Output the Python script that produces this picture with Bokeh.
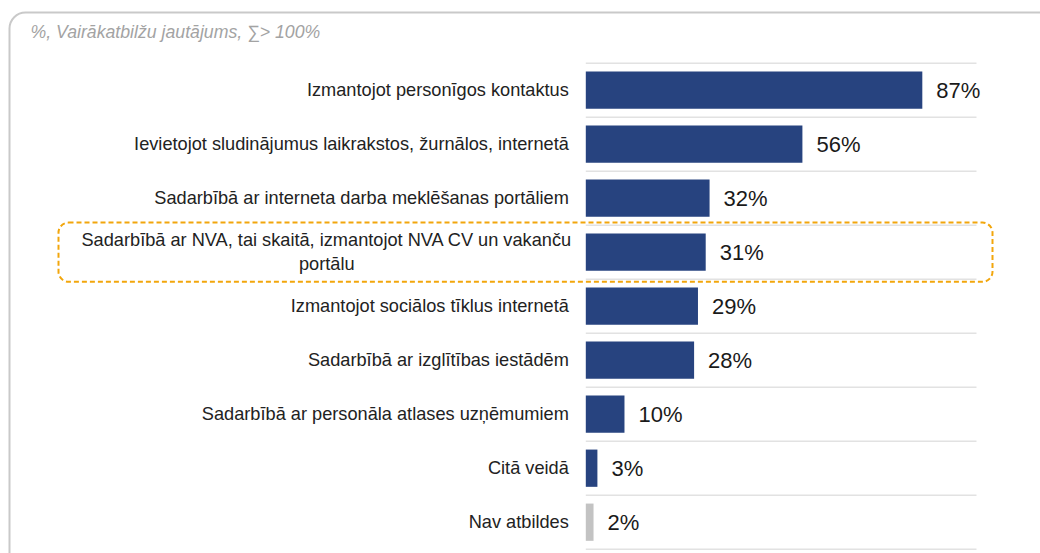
from bokeh.plotting import figure
from bokeh.models import ColumnDataSource, Range1d, BoxAnnotation
from bokeh.embed import file_html
from bokeh.resources import INLINE
from bokeh.core.properties import value

# ---------------- data ----------------
categories = [
    "Izmantojot personīgos kontaktus",
    "Ievietojot sludinājumus laikrakstos, žurnālos, internetā",
    "Sadarbībā ar interneta darba meklēšanas portāliem",
    "Sadarbībā ar NVA, tai skaitā, izmantojot NVA CV un vakanču\nportālu",
    "Izmantojot sociālos tīklus internetā",
    "Sadarbībā ar izglītības iestādēm",
    "Sadarbībā ar personāla atlases uzņēmumiem",
    "Citā veidā",
    "Nav atbildes",
]
values = [87, 56, 32, 31, 29, 28, 10, 3, 2]
highlighted = "Sadarbībā ar NVA, tai skaitā, izmantojot NVA CV un vakanču\nportālu"
no_answer = "Nav atbildes"
subtitle = "%, Vairākatbilžu jautājums, ∑> 100%"

# ---------------- layout ----------------
W, H = 1040, 553
PAGE = 0                      # offset of the canvas in the picture
ORIGIN_PX = 585.3             # picture x of value 0
PX_PER_UNIT = 3.868           # pixels per percent
ROW_PX = 54.0
FIRST_ROW_PX = 89.7           # picture y of first row centre

xs = -(ORIGIN_PX - PAGE) / PX_PER_UNIT
xe = xs + W / PX_PER_UNIT
ye = -(FIRST_ROW_PX - PAGE) / ROW_PX
ys = ye + H / ROW_PX


def px_to_x(px):
    return xs + (px - PAGE) / PX_PER_UNIT


def py_to_y(py):
    return ye + (py - PAGE) / ROW_PX


NAVY = "#27437f"
GREY_BAR = "#c3c3c3"
FONT = "Liberation Sans"

idx = list(range(len(categories)))
src = ColumnDataSource(dict(
    y=idx,
    v=values,
    cat=categories,
    lbl=[f"{v}%" for v in values],
    color=[GREY_BAR if c == no_answer else NAVY for c in categories],
    align=["center" if "\n" in c else "right" for c in categories],
    xoff=[-259 if "\n" in c else -17 for c in categories],
))

p = figure(width=W, height=H, x_range=Range1d(xs, xe), y_range=Range1d(ys, ye),
           output_backend="svg", toolbar_location=None,
           x_axis_location=None, y_axis_location=None,
           min_border=0, min_border_left=0, min_border_right=0,
           min_border_top=0, min_border_bottom=0)
p.grid.visible = False
p.outline_line_color = None
p.background_fill_color = "white"
p.border_fill_color = "white"

# outer rounded frame
p.add_layout(BoxAnnotation(left=px_to_x(9), right=px_to_x(1080),
                           top=py_to_y(12), bottom=py_to_y(600),
                           fill_alpha=0, line_color="#c9c9c9", line_alpha=1,
                           line_width=2, border_radius=16))

# row separators
seps = [i - 0.5 for i in range(len(categories) + 1)]
p.segment(x0=[0] * len(seps), x1=[101] * len(seps), y0=seps, y1=seps,
          line_color="#e2e2e2", line_width=1.5)

# bars
p.hbar(y="y", left=0, right="v", height=0.69, fill_color="color",
       line_color=None, source=src)

# value labels
p.text(x="v", y="y", text="lbl", x_offset=14, text_align="left",
       text_baseline="middle", text_font=value(FONT), text_font_size="22px",
       text_color="#1a1a1a", source=src)

# category labels
p.text(x=0, y="y", text="cat", x_offset="xoff", text_align="align",
       text_baseline="middle", text_font=value(FONT), text_font_size="18.2px",
       text_color="#222222", text_line_height=1.2, source=src)

# highlight box
hi = categories.index(highlighted)
p.add_layout(BoxAnnotation(left=px_to_x(58), right=px_to_x(992),
                           top=hi - 0.548, bottom=hi + 0.548,
                           fill_alpha=0, line_color="#f2a60c", line_alpha=1,
                           line_width=2, line_dash="5 3", border_radius=10))

# subtitle
p.text(x=[px_to_x(30)], y=[py_to_y(31)], text=[subtitle], text_align="left",
       text_baseline="middle", text_font=value(FONT), text_font_size="17.7px",
       text_font_style="italic", text_color="#a3a3a3")

open("out.html", "w").write(file_html(p, INLINE))
